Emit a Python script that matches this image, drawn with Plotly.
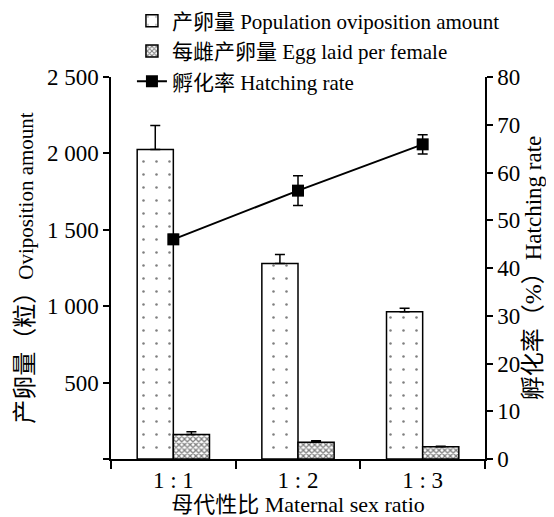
import plotly.graph_objects as go

categories = ["1 : 1", "1 : 2", "1 : 3"]
pop_amount = [2026, 1279, 963]
pop_err = [157, 59, 24]
egg_per_female = [161, 109, 80]
egg_err = [18, 10, 3]
hatch_rate = [46.0, 56.2, 65.9]
hatch_err = [1.0, 3.1, 2.0]

left_tickvals = [0, 500, 1000, 1500, 2000, 2500]
left_ticktext = ["", "500", "1 000", "1 500", "2 000", "2 500"]
right_tickvals = [0, 10, 20, 30, 40, 50, 60, 70, 80]

FONT = "Times New Roman, Liberation Serif, Noto Sans CJK SC"

left_title = '\u00a0\u00a0\u00a0<span style="font-size:24px">产卵量（粒）</span>Oviposition amount'
right_title = '\u00a0\u00a0<span style="font-size:24px">孵化率（%）</span>Hatching rate'
x_title = "母代性比 Maternal sex ratio"

fig = go.Figure()
fig.add_trace(go.Bar(
    x=categories, y=pop_amount, name="产卵量 Population oviposition amount",
    marker=dict(color="white", line=dict(color="black", width=1.5),
                pattern=dict(shape=".", size=13, solidity=0.03, fgcolor="black", bgcolor="white")),
    error_y=dict(type="data", symmetric=False, array=pop_err, arrayminus=[0, 0, 0],
                 color="black", thickness=1.5, width=5),
))
fig.add_trace(go.Bar(
    x=categories, y=egg_per_female, name="每雌产卵量 Egg laid per female",
    marker=dict(color="white", line=dict(color="black", width=1.5),
                pattern=dict(shape="x", size=4, solidity=0.55, fgcolor="black", bgcolor="white")),
    error_y=dict(type="data", symmetric=False, array=egg_err, arrayminus=[0, 0, 0],
                 color="black", thickness=1.5, width=5),
))
fig.add_trace(go.Scatter(
    x=categories, y=hatch_rate, name="孵化率 Hatching rate", yaxis="y2",
    mode="lines+markers",
    line=dict(color="black", width=2),
    marker=dict(symbol="square", size=12, color="black"),
    error_y=dict(type="data", array=hatch_err, color="black", thickness=1.5, width=5),
))

fig.update_layout(
    width=546, height=509,
    margin=dict(l=103, r=69, t=69, b=58, autoexpand=False),
    paper_bgcolor="white", plot_bgcolor="white",
    font=dict(family=FONT, size=21, color="black"),
    barmode="group", bargap=0.42, bargroupgap=0,
    showlegend=True,
    legend=dict(x=0.056, y=1.2, xanchor="left", yanchor="top",
                bgcolor="rgba(0,0,0,0)", font=dict(family=FONT, size=21),
                tracegroupgap=0),
    xaxis=dict(
        showline=True, linecolor="black", linewidth=1.5,
        ticks="outside", tickson="boundaries", ticklen=8, tickwidth=1.5, tickcolor="black",
        showgrid=False, zeroline=False,
        title=dict(text=x_title, standoff=0, font=dict(size=22)),
        tickfont=dict(size=23), automargin=False,
    ),
    yaxis=dict(
        range=[0, 2500], showline=True, linecolor="black", linewidth=1.5,
        tickvals=left_tickvals, ticktext=left_ticktext,
        ticks="outside", ticklen=6, tickwidth=1.5, tickcolor="black",
        showgrid=False, zeroline=False,
        title=dict(text=left_title, standoff=8, font=dict(size=21)),
        tickfont=dict(size=23), automargin=False,
    ),
    yaxis2=dict(
        range=[0, 80], overlaying="y", side="right", anchor="x",
        showline=True, linecolor="black", linewidth=1.5,
        tickvals=right_tickvals,
        ticks="outside", ticklen=6, tickwidth=1.5, tickcolor="black",
        showgrid=False, zeroline=False,
        title=dict(text=right_title, standoff=6, font=dict(size=23)),
        tickfont=dict(size=23), automargin=False,
    ),
)

fig.write_html("out.html")
